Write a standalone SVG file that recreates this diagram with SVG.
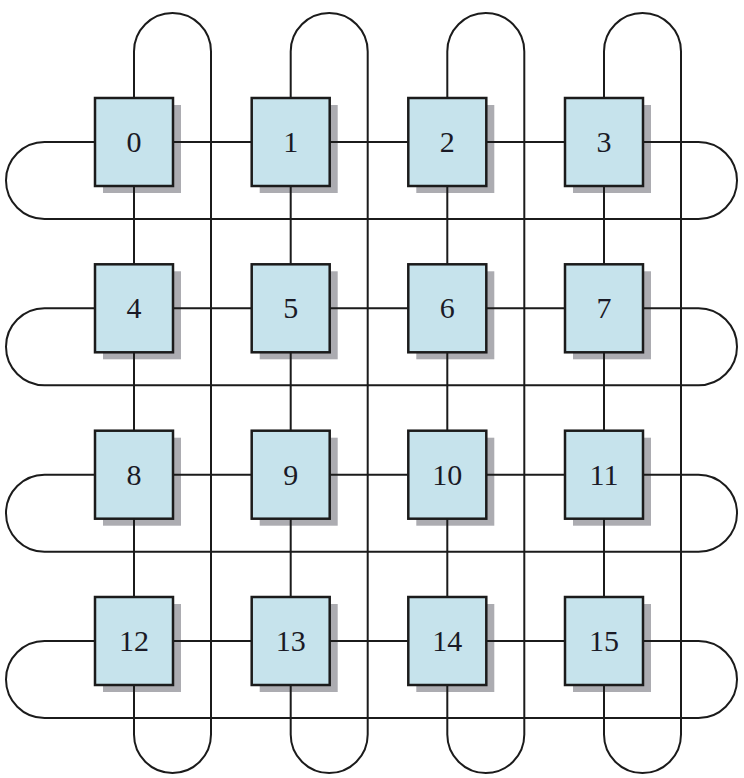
<svg xmlns="http://www.w3.org/2000/svg" width="744" height="778" viewBox="0 0 744 778">
<style>
.box{fill:#c6e3ec;stroke:#1b1b1b;stroke-width:2.5}
.sh{fill:#acacb1}
.lbl{font-family:"Liberation Serif","Times New Roman",serif;font-size:30px;fill:#1a1a26;text-anchor:middle}
.ln{fill:none;stroke:#1b1b1b;stroke-width:2}
</style>
<defs>
<g id="nd">
<rect class="sh" x="-31" y="-37" width="78" height="88"/>
<rect class="box" x="-39" y="-44" width="78" height="88"/>
</g>
</defs>
<rect width="744" height="778" fill="#ffffff"/>
<g id="nodes">
<g id="n0" transform="translate(134,142)"><use href="#nd"/><text class="lbl" y="10">0</text></g>
<g id="n1" transform="translate(290.7,142)"><use href="#nd"/><text class="lbl" y="10">1</text></g>
<g id="n2" transform="translate(447.3,142)"><use href="#nd"/><text class="lbl" y="10">2</text></g>
<g id="n3" transform="translate(604,142)"><use href="#nd"/><text class="lbl" y="10">3</text></g>
<g id="n4" transform="translate(134,308.3)"><use href="#nd"/><text class="lbl" y="10">4</text></g>
<g id="n5" transform="translate(290.7,308.3)"><use href="#nd"/><text class="lbl" y="10">5</text></g>
<g id="n6" transform="translate(447.3,308.3)"><use href="#nd"/><text class="lbl" y="10">6</text></g>
<g id="n7" transform="translate(604,308.3)"><use href="#nd"/><text class="lbl" y="10">7</text></g>
<g id="n8" transform="translate(134,474.7)"><use href="#nd"/><text class="lbl" y="10">8</text></g>
<g id="n9" transform="translate(290.7,474.7)"><use href="#nd"/><text class="lbl" y="10">9</text></g>
<g id="n10" transform="translate(447.3,474.7)"><use href="#nd"/><text class="lbl" y="10">10</text></g>
<g id="n11" transform="translate(604,474.7)"><use href="#nd"/><text class="lbl" y="10">11</text></g>
<g id="n12" transform="translate(134,641)"><use href="#nd"/><text class="lbl" y="10">12</text></g>
<g id="n13" transform="translate(290.7,641)"><use href="#nd"/><text class="lbl" y="10">13</text></g>
<g id="n14" transform="translate(447.3,641)"><use href="#nd"/><text class="lbl" y="10">14</text></g>
<g id="n15" transform="translate(604,641)"><use href="#nd"/><text class="lbl" y="10">15</text></g>
</g>
<g id="connectors" class="ln">
<path d="M173,142H251.7M329.7,142H408.3M486.3,142H565"/>
<path d="M173,308.3H251.7M329.7,308.3H408.3M486.3,308.3H565"/>
<path d="M173,474.7H251.7M329.7,474.7H408.3M486.3,474.7H565"/>
<path d="M173,641H251.7M329.7,641H408.3M486.3,641H565"/>
<path d="M134,186V264.3M134,352.3V430.7M134,518.7V597"/>
<path d="M290.7,186V264.3M290.7,352.3V430.7M290.7,518.7V597"/>
<path d="M447.3,186V264.3M447.3,352.3V430.7M447.3,518.7V597"/>
<path d="M604,186V264.3M604,352.3V430.7M604,518.7V597"/>
<path d="M643,142H698.5A38.5,38.5 0 0 1 698.5,219H44.5A38.5,38.5 0 0 1 44.5,142H95"/>
<path d="M643,308.3H698.5A38.5,38.5 0 0 1 698.5,385.3H44.5A38.5,38.5 0 0 1 44.5,308.3H95"/>
<path d="M643,474.7H698.5A38.5,38.5 0 0 1 698.5,551.7H44.5A38.5,38.5 0 0 1 44.5,474.7H95"/>
<path d="M643,641H698.5A38.5,38.5 0 0 1 698.5,718H44.5A38.5,38.5 0 0 1 44.5,641H95"/>
<path d="M134,98V51.5A38.5,38.5 0 0 1 211,51.5V734.5A38.5,38.5 0 0 1 134,734.5V685"/>
<path d="M290.7,98V51.5A38.5,38.5 0 0 1 367.7,51.5V734.5A38.5,38.5 0 0 1 290.7,734.5V685"/>
<path d="M447.3,98V51.5A38.5,38.5 0 0 1 524.3,51.5V734.5A38.5,38.5 0 0 1 447.3,734.5V685"/>
<path d="M604,98V51.5A38.5,38.5 0 0 1 681,51.5V734.5A38.5,38.5 0 0 1 604,734.5V685"/>
</g>
</svg>
